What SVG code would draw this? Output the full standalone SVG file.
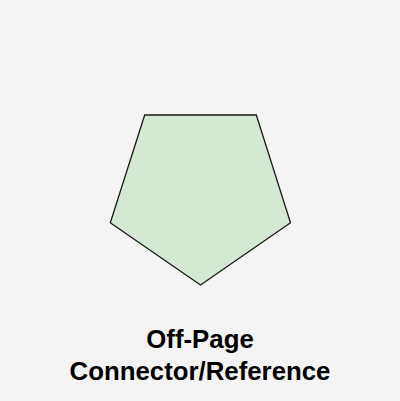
<svg xmlns="http://www.w3.org/2000/svg" width="400" height="401" viewBox="0 0 400 401">
<style>
.shape{fill:#d5e8d4;stroke:#1a1a1a;stroke-width:1.3}
.label{font-family:"Liberation Sans",Arial,sans-serif;font-weight:bold;font-size:25.8px;fill:#000;text-anchor:middle}
</style>
<rect width="400" height="401" fill="#f4f4f4"/>
<g id="offpage-connector">
<polygon class="shape" points="144.7,115 256.3,115 290.5,222.7 200.5,285 110.3,222.7"/>
<text class="label" x="200" y="348">Off-Page</text>
<text class="label" x="200" y="380">Connector/Reference</text>
</g>
<g id="connectors"/>
</svg>
